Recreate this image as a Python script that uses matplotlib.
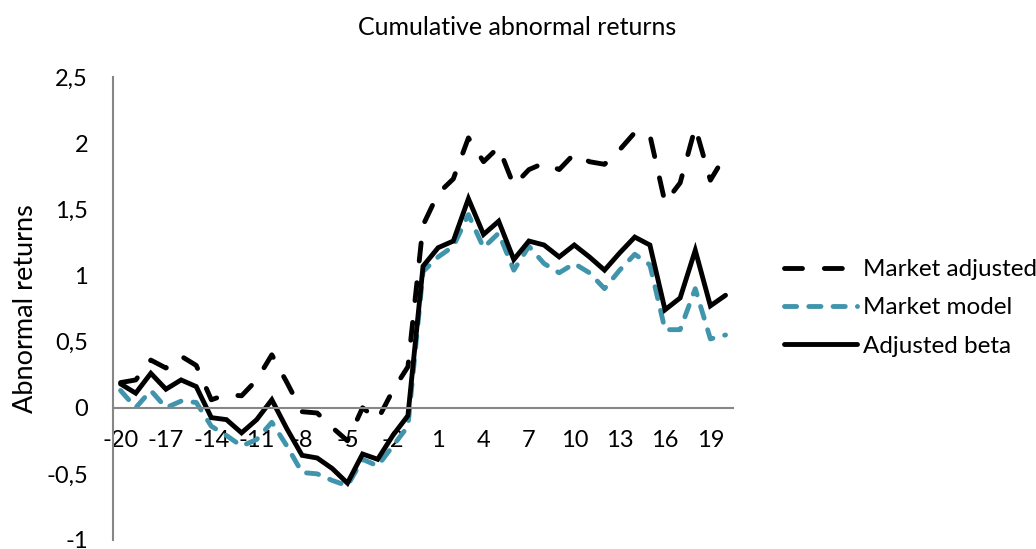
import matplotlib.pyplot as plt
import numpy as np

plt.rcParams['font.family'] = ['Lato', 'DejaVu Sans']

days = np.arange(-20, 21)

market_adjusted = [0.19, 0.21, 0.36, 0.30, 0.39, 0.32, 0.06, 0.10, 0.09, 0.21,
                   0.40, 0.19, -0.03, -0.04, -0.15, -0.25, 0.00, -0.09, 0.13, 0.31,
                   1.38, 1.62, 1.73, 2.04, 1.86, 1.97, 1.68, 1.80, 1.85, 1.80,
                   1.92, 1.86, 1.84, 1.95, 2.08, 2.06, 1.55, 1.70, 2.12, 1.72,
                   1.91]
market_model = [0.13, 0.00, 0.13, 0.00, 0.05, 0.04, -0.14, -0.21, -0.29, -0.24,
                -0.11, -0.29, -0.49, -0.50, -0.55, -0.59, -0.39, -0.44, -0.29, -0.14,
                1.03, 1.14, 1.22, 1.46, 1.21, 1.32, 1.04, 1.22, 1.09, 1.02,
                1.09, 1.02, 0.90, 1.04, 1.16, 1.08, 0.59, 0.59, 0.90, 0.52,
                0.55]
adjusted_beta = [0.18, 0.11, 0.26, 0.14, 0.21, 0.16, -0.075, -0.09, -0.19, -0.09,
                 0.06, -0.16, -0.36, -0.38, -0.46, -0.57, -0.35, -0.39, -0.21, -0.06,
                 1.07, 1.21, 1.26, 1.58, 1.31, 1.41, 1.12, 1.26, 1.23, 1.14,
                 1.23, 1.14, 1.04, 1.17, 1.29, 1.23, 0.74, 0.83, 1.19, 0.77,
                 0.85]

teal = '#4095ad'
grey = '#868686'

fig = plt.figure(figsize=(10.36, 5.49), dpi=100)
ax = fig.add_axes([0.1091, 0.0164, 0.5985, 0.8433])

ax.plot(days, market_adjusted, color='black', linewidth=3.5,
        linestyle=(0, (3.7, 4.5)), dash_capstyle='round',
        solid_joinstyle='round', label='Market adjusted')
ax.plot(days, market_model, color=teal, linewidth=3.5,
        linestyle=(0, (2.5, 2.5)), dash_capstyle='round',
        label='Market model')
ax.plot(days, adjusted_beta, color='black', linewidth=3.5,
        solid_capstyle='round', solid_joinstyle='miter', label='Adjusted beta')

ax.set_xlim(-20.5, 20.5)
ax.set_ylim(-1, 2.5)

ax.spines['top'].set_visible(False)
ax.spines['right'].set_visible(False)
ax.spines['bottom'].set_position(('data', 0))
for s in ('left', 'bottom'):
    ax.spines[s].set_color(grey)
    ax.spines[s].set_linewidth(1.5)

xticks = days[::3]
ax.set_xticks(xticks)
ax.set_xticklabels([str(t) for t in xticks])
yticks = np.arange(-1, 2.51, 0.5)
ax.set_yticks(yticks)
ax.set_yticklabels([('%g' % v).replace('.', ',') for v in yticks])
ax.tick_params(axis='both', length=0, labelsize=17, colors='black')
ax.tick_params(axis='x', pad=16)
ax.tick_params(axis='y', pad=18)

ax.set_ylabel('Abnormal returns', fontsize=19.5, labelpad=6)
fig.text(0.499, 0.949, 'Cumulative abnormal returns', fontsize=18,
         ha='center', va='center')

fig.legend(loc='center left', bbox_to_anchor=(0.745, 0.439), frameon=False,
           fontsize=17.5, handlelength=3.0, handletextpad=0.25,
           labelspacing=0.7, borderpad=0)

fig.savefig('out.png', dpi=100)
